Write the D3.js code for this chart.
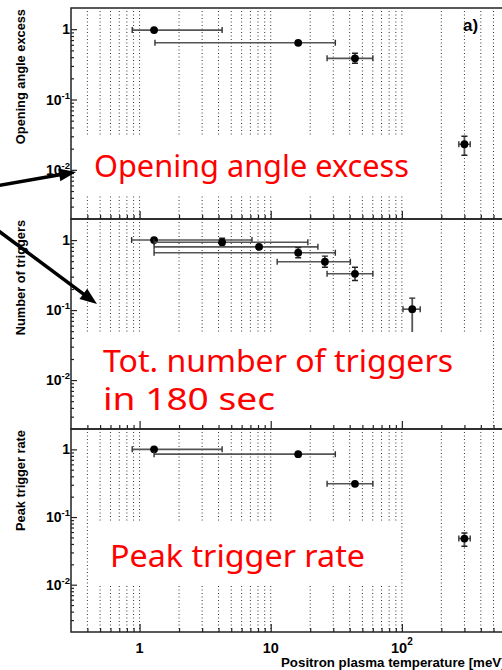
<!DOCTYPE html>
<html>
<head>
<meta charset="utf-8">
<script src="https://cdn.jsdelivr.net/npm/d3@7"></script>
<style>
  body { margin: 0; background: #fff; }
  svg { display: block; }
</style>
</head>
<body>
<script>
// panel a) opening angle excess vs positron temperature (meV)
const openT = [1.29, 16.2, 43.9, 300];
const openTLo = [0.879, 1.31, 26.9, 272];
const openTHi = [4.26, 31.1, 60.1, 332];
const openVal = [0.97, 0.64, 0.385, 0.0231];
const openLo = [0.97, 0.64, 0.327, 0.0161];
const openHi = [0.97, 0.64, 0.454, 0.030];

// total number of triggers in 180 sec
const trigT = [1.29, 4.26, 8.15, 16.2, 25.9, 43.9, 120];
const trigTLo = [0.87, 1.29, 1.29, 1.29, 11.2, 26.9, 102];
const trigTHi = [7.2, 19.2, 22.9, 31.1, 40.5, 60.1, 138];
const trigVal = [1.0, 0.93, 0.80, 0.66, 0.49, 0.33, 0.103];
const trigLo = [1.0, 0.82, 0.75, 0.56, 0.41, 0.265, 0.03];
const trigHi = [1.0, 1.06, 0.85, 0.78, 0.59, 0.41, 0.148];

// peak trigger rate
const peakT = [1.29, 16.2, 43.9, 300];
const peakTLo = [0.879, 1.29, 26.9, 272];
const peakTHi = [4.26, 31.1, 60.1, 332];
const peakVal = [1.0, 0.85, 0.31, 0.048];
const peakLo = [1.0, 0.85, 0.31, 0.037];
const peakHi = [1.0, 0.85, 0.31, 0.058];

const yTitles = ['Opening angle excess', 'Number of triggers', 'Peak trigger rate'];
const notes = [['Opening angle excess'], ['Tot. number of triggers', 'in 180 sec'], ['Peak trigger rate']];
const xMajor = [1, 10, 100];
const yMajor = [0.01, 0.1, 1];
const xTitle = 'Positron plasma temperature [meV]';

const width = 502;
const height = 670;
const left = 71;
const right = 533;

const x = d3.scaleLog().domain([0.3, 1000]).range([left, right]);

// 1..9 x 10^e values strictly inside a log domain
function logTicks(domain) {
  const out = [];
  for (let e = -4; e <= 4; e += 1) {
    for (let k = 1; k <= 9; k += 1) {
      const v = k * 10 ** e;
      if (v > domain[0] * 1.0001 && v < domain[1] * 0.9999) out.push(+v.toPrecision(3));
    }
  }
  return out;
}

const xAll = logTicks(x.domain());
const xMinor = xAll.filter(v => !xMajor.includes(v));

const panels = [
  {
    t: openT, tLo: openTLo, tHi: openTHi, v: openVal, lo: openLo, hi: openHi,
    top: 8, bottom: 219, box: [72, 412, 135, 195],
    noteX: 94, noteY: [177], noteW: [315],
  },
  {
    t: trigT, tLo: trigTLo, tHi: trigTHi, v: trigVal, lo: trigLo, hi: trigHi,
    top: 219, bottom: 429, box: [72, 490, 332, 428],
    noteX: 103, noteY: [372, 410], noteW: [350, 172],
  },
  {
    t: peakT, tLo: peakTLo, tHi: peakTHi, v: peakVal, lo: peakLo, hi: peakHi,
    top: 429, bottom: 632, box: [90, 400, 523, 584],
    noteX: 110, noteY: [567], noteW: [255],
  },
];

const svg = d3.select('body').append('svg')
  .attr('width', width)
  .attr('height', height)
  .style('font-family', '"Liberation Sans", Arial, sans-serif');

panels.forEach((p, i) => {
  const y = d3.scaleLog().domain([0.002, 2]).range([p.bottom, p.top]);
  const g = svg.append('g');

  // dotted vertical grid
  g.selectAll('.grid')
    .data(xAll)
    .enter()
    .append('line')
    .attr('x1', d => x(d))
    .attr('x2', d => x(d))
    .attr('y1', p.top + 3)
    .attr('y2', p.bottom)
    .attr('stroke', '#333')
    .attr('stroke-width', 1)
    .attr('stroke-dasharray', '1,2.5');

  const pts = p.t.map((t, j) => ({
    t, tLo: p.tLo[j], tHi: p.tHi[j], v: p.v[j], lo: p.lo[j], hi: p.hi[j],
  }));

  // horizontal error bars
  const eb = g.selectAll('.eb').data(pts).enter().append('g');
  eb.append('line')
    .attr('x1', d => x(d.tLo))
    .attr('x2', d => x(d.tHi))
    .attr('y1', d => y(d.v))
    .attr('y2', d => y(d.v))
    .attr('stroke', '#555')
    .attr('stroke-width', 1.6);
  eb.append('path')
    .attr('d', d => `M${x(d.tLo)},${y(d.v) - 3}V${y(d.v) + 3}M${x(d.tHi)},${y(d.v) - 3}V${y(d.v) + 3}`)
    .attr('stroke', '#333')
    .attr('stroke-width', 1.4);

  // vertical error bars
  const ye = eb.filter(d => d.lo !== d.hi);
  ye.append('line')
    .attr('x1', d => x(d.t))
    .attr('x2', d => x(d.t))
    .attr('y1', d => y(d.lo))
    .attr('y2', d => y(d.hi))
    .attr('stroke', '#555')
    .attr('stroke-width', 1.8);
  ye.append('path')
    .attr('d', d => `M${x(d.t) - 3},${y(d.hi)}H${x(d.t) + 3}M${x(d.t) - 3},${y(d.lo)}H${x(d.t) + 3}`)
    .attr('stroke', '#222')
    .attr('stroke-width', 1.4);

  eb.append('circle')
    .attr('cx', d => x(d.t))
    .attr('cy', d => y(d.v))
    .attr('r', 3.9)
    .attr('fill', '#000');

  // white label box covering the grid
  g.append('rect')
    .attr('x', p.box[0])
    .attr('y', p.box[2])
    .attr('width', p.box[1] - p.box[0])
    .attr('height', p.box[3] - p.box[2])
    .attr('fill', '#fff');

  notes[i].forEach((line, k) => {
    g.append('text')
      .attr('x', p.noteX)
      .attr('y', p.noteY[k])
      .attr('fill', '#ff0000')
      .attr('font-family', '"Comic Sans MS", "Noto Sans", sans-serif')
      .attr('font-size', 31)
      .attr('textLength', p.noteW[k])
      .attr('lengthAdjust', 'spacingAndGlyphs')
      .text(line);
  });

  // frame
  g.append('rect')
    .attr('x', left)
    .attr('y', p.top)
    .attr('width', right - left)
    .attr('height', p.bottom - p.top)
    .attr('fill', 'none')
    .attr('stroke', '#222')
    .attr('stroke-width', 1.5);

  // ticks pointing inwards
  const yMinor = logTicks(y.domain()).filter(v => !yMajor.includes(v));
  g.append('g')
    .attr('transform', `translate(${left},0)`)
    .call(d3.axisLeft(y).tickValues(yMinor).tickSizeInner(-3).tickSizeOuter(0).tickFormat(''));
  g.append('g')
    .attr('transform', `translate(${left},0)`)
    .call(d3.axisLeft(y).tickValues(yMajor).tickSizeInner(-6).tickSizeOuter(0).tickFormat(''));
  g.append('g')
    .attr('transform', `translate(0,${p.bottom})`)
    .call(d3.axisBottom(x).tickValues(xMinor).tickSizeInner(-4).tickSizeOuter(0).tickFormat(''));
  g.append('g')
    .attr('transform', `translate(0,${p.bottom})`)
    .call(d3.axisBottom(x).tickValues(xMajor).tickSizeInner(-8).tickSizeOuter(0).tickFormat(''));
  g.selectAll('.domain').remove();
  g.selectAll('.tick line').attr('stroke', '#222').attr('stroke-width', 1.2);

  // y tick labels
  yMajor.forEach((v) => {
    const e = Math.round(Math.log10(v));
    const lab = g.append('text')
      .attr('x', left - 1)
      .attr('y', y(v) + 5)
      .attr('text-anchor', 'end')
      .attr('font-weight', 'bold')
      .attr('font-size', 14);
    if (e === 0) {
      lab.text('1');
    } else {
      lab.append('tspan').text('10');
      lab.append('tspan')
        .attr('font-size', 9.5)
        .attr('dy', -6)
        .text(e);
    }
  });

  // y title
  svg.append('text')
    .attr('transform', `translate(25,${p.top + 1}) rotate(-90)`)
    .attr('text-anchor', 'end')
    .attr('font-weight', 'bold')
    .attr('font-size', 12.8)
    .text(yTitles[i]);

  if (i === panels.length - 1) {
    xMajor.forEach((v) => {
      const e = Math.round(Math.log10(v));
      const lab = svg.append('text')
        .attr('x', x(v))
        .attr('y', p.bottom + 21)
        .attr('text-anchor', 'middle')
        .attr('font-weight', 'bold')
        .attr('font-size', 14.5);
      if (e <= 1) {
        lab.text(String(v));
      } else {
        lab.append('tspan').text('10');
        lab.append('tspan')
          .attr('font-size', 10)
          .attr('dy', -8)
          .text(e);
      }
    });
  }
});

svg.append('text')
  .attr('x', 281)
  .attr('y', 667)
  .attr('font-weight', 'bold')
  .attr('font-size', 13.3)
  .text(xTitle);

svg.append('text')
  .attr('x', 463)
  .attr('y', 31)
  .attr('font-weight', 'bold')
  .attr('font-size', 17)
  .text('a)');

// black pointer arrows
function arrow(x1, y1, x2, y2) {
  const ang = Math.atan2(y2 - y1, x2 - x1);
  const len = 17;
  const half = 6.5;
  const bx = x2 - len * Math.cos(ang);
  const by = y2 - len * Math.sin(ang);
  svg.append('line')
    .attr('x1', x1)
    .attr('y1', y1)
    .attr('x2', bx + 2 * Math.cos(ang))
    .attr('y2', by + 2 * Math.sin(ang))
    .attr('stroke', '#000')
    .attr('stroke-width', 3.5);
  svg.append('path')
    .attr('d', `M${x2},${y2}L${bx - half * Math.sin(ang)},${by + half * Math.cos(ang)}L${bx + half * Math.sin(ang)},${by - half * Math.cos(ang)}Z`)
    .attr('fill', '#000');
}

arrow(-2, 185.5, 76, 172);
arrow(-4, 229, 97, 304);
</script>
</body>
</html>
